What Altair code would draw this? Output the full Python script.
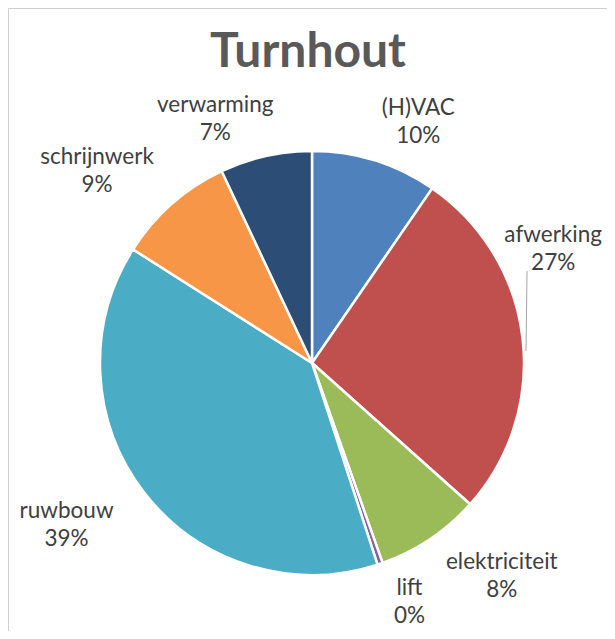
import altair as alt
import pandas as pd

# ---- data ----
categories = ["(H)VAC", "afwerking", "elektriciteit", "lift", "ruwbouw", "schrijnwerk", "verwarming"]
values = [9.6, 27.0, 8.0, 0.4, 39.0, 9.0, 7.0]
colors = ["#4F81BD", "#C0504D", "#9BBB59", "#8064A2", "#4BACC6", "#F79646", "#2C4D75"]
title_text = "Turnhout"

# ---- layout (not data) ----
W, H = 599, 623
CX, CY = 304, 355          # pie centre inside the view
R_PIE = 212
R_LABEL = 260
label_nudge = {            # dx, dy nudges of Excel's best-fit label placement
    "(H)VAC": (29, -7),
    "afwerking": (-17, -97),
    "elektriciteit": (45, -17),
    "lift": (14, -21),
    "ruwbouw": (-40, -11),
    "schrijnwerk": (-43, -11),
    "verwarming": (-40, -4),
}
FONT = "Lato"

df = pd.DataFrame({
    "category": categories,
    "value": values,
    "order": list(range(len(categories))),
})

base = (
    alt.Chart(df)
    .transform_joinaggregate(total="sum(value)")
    .transform_window(cum="sum(value)", sort=[alt.SortField("order")])
    .transform_calculate(
        mid="datum.cum - datum.value / 2",
        label="datum.category + '\\n' + format(datum.value / datum.total, '.0%')",
    )
)

pie = base.mark_arc(radius=R_PIE, stroke="white", strokeWidth=2.5).encode(
    theta=alt.Theta("value:Q", stack=True),
    color=alt.Color("category:N", scale=alt.Scale(domain=categories, range=colors), legend=None),
    order=alt.Order("order:Q"),
    x=alt.value(CX),
    y=alt.value(CY),
)

label_layers = []
for cat in categories:
    dx, dy = label_nudge[cat]
    label_layers.append(
        base.transform_filter(alt.datum.category == cat)
        .mark_text(
            radius=R_LABEL, dx=dx, dy=dy, lineBreak="\n", lineHeight=28,
            font=FONT, fontSize=22.5, color="#404040", align="center", baseline="middle",
        )
        .encode(
            theta=alt.Theta("mid:Q", stack=False),
            text="label:N",
            x=alt.value(CX),
            y=alt.value(CY),
        )
    )

leader = alt.Chart(pd.DataFrame({"c": ["afwerking"]})).mark_rule(
    color="#a6a6a6", strokeWidth=1
).encode(x=alt.value(519), x2=alt.value(518), y=alt.value(263), y2=alt.value(343))

title = alt.Chart(pd.DataFrame({"t": [title_text]})).mark_text(
    font=FONT, fontSize=48, fontWeight="bold", color="#595959", align="center", baseline="alphabetic"
).encode(text="t:N", x=alt.value(300), y=alt.value(59))

chart = (
    alt.layer(pie, *label_layers, leader, title)
    .properties(width=W, height=H, padding=0, autosize=alt.AutoSizeParams(type="none"))
    .configure_view(stroke="#cfcfcf", strokeWidth=1)
)

chart.save("out.html", embed_options={"renderer": "svg", "actions": False})
